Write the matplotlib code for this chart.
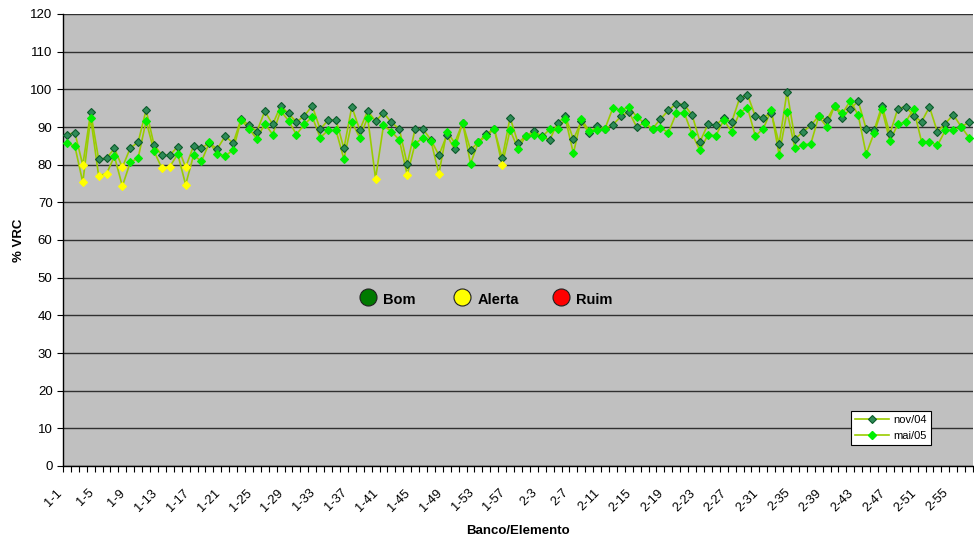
import numpy as np
import matplotlib
matplotlib.use("Agg")
import matplotlib.pyplot as plt
import matplotlib.transforms as mtransforms
from matplotlib.lines import Line2D

plt.rcParams['font.family'] = ['Liberation Sans', 'DejaVu Sans']

# categorias: banco 1 (1-58) e banco 2 (2-57)
elementos = [f"1-{i}" for i in range(1, 59)] + [f"2-{i}" for i in range(1, 58)]

nov04 = [88.0, 88.5, 79.9, 93.9, 81.5, 81.7, 84.3, 79.3, 84.4, 86.0,
         94.5, 85.3, 82.5, 82.5, 84.8, 79.3, 85.0, 84.5, 85.7, 84.2,
         87.6, 85.7, 92.1, 90.5, 88.8, 94.2, 90.7, 95.6, 93.6, 91.3,
         93.0, 95.6, 89.4, 91.8, 91.9, 84.3, 95.4, 89.2, 94.3, 91.5,
         93.8, 91.2, 89.5, 80.1, 89.5, 89.4, 86.6, 82.5, 87.8, 84.1,
         91.1, 83.9, 86.0, 88.2, 89.5, 81.7, 92.5, 85.8, 87.6, 88.9,
         87.6, 86.5, 91.1, 92.8, 86.7, 91.5, 88.3, 90.3, 89.6, 90.6,
         92.8, 94.1, 90.0, 91.2, 89.5, 92.1, 94.4, 96.2, 95.9, 93.2,
         86.1, 90.7, 90.4, 92.5, 91.3, 97.6, 98.6, 92.8, 92.5, 93.8,
         85.6, 99.4, 86.8, 88.7, 90.4, 92.9, 91.8, 95.6, 92.5, 94.9,
         96.8, 89.5, 89.1, 95.7, 88.2, 94.9, 95.4, 93.0, 91.4, 95.3,
         88.7, 90.9, 93.3, 90.1, 91.2]

mai05 = [85.7, 84.9, 75.3, 92.4, 77.1, 77.6, 82.2, 74.3, 80.6, 81.8,
         91.6, 83.6, 79.0, 79.5, 82.8, 74.7, 82.5, 80.9, 85.9, 82.8,
         82.3, 83.9, 91.8, 89.6, 86.8, 90.9, 88.0, 94.3, 91.7, 88.0,
         90.7, 92.7, 87.2, 89.1, 89.1, 81.5, 91.3, 87.2, 92.5, 76.3,
         90.4, 88.8, 86.6, 77.3, 85.6, 87.1, 86.3, 77.6, 88.8, 85.8,
         91.1, 80.3, 86.0, 87.6, 89.5, 79.9, 89.2, 84.2, 87.6, 88.0,
         87.3, 89.4, 89.4, 92.1, 83.0, 92.2, 88.9, 89.1, 89.6, 95.1,
         94.4, 95.4, 92.7, 91.0, 89.4, 89.8, 88.5, 93.6, 93.8, 88.1,
         83.8, 87.9, 87.7, 91.8, 88.8, 93.8, 95.1, 87.6, 89.6, 94.4,
         82.6, 94.1, 84.3, 85.3, 85.5, 92.8, 90.1, 95.6, 93.6, 97.0,
         93.1, 82.8, 88.4, 94.7, 86.3, 90.7, 91.4, 94.8, 86.1, 86.1,
         85.1, 89.1, 89.2, 90.1, 87.2]

limite_alerta = 80  # abaixo disso o ponto fica amarelo

cor_linha = '#99CC00'
cor_nov = '#2E8B57'
cor_nov_borda = '#0B5A2A'
cor_mai = '#00F000'
cor_alerta = '#FFFF00'

fig = plt.figure(figsize=(9.74, 5.4), dpi=100)
ax = fig.add_axes([63 / 974, 1 - 466 / 540, 910 / 974, 452 / 540])
ax.set_facecolor('#C0C0C0')

x = np.arange(len(elementos))
series = [(nov04, cor_nov, cor_nov_borda), (mai05, cor_mai, cor_mai)]
for valores, cor, borda in series:
    v = np.array(valores)
    ax.plot(x, v, color=cor_linha, lw=1.2, zorder=3)
    ok = v >= limite_alerta
    ax.plot(x[ok], v[ok], ls='none', marker='D', ms=4.4, mfc=cor, mec=borda,
            mew=0.8, zorder=4)
    ax.plot(x[~ok], v[~ok], ls='none', marker='D', ms=4.4, mfc=cor_alerta,
            mec=cor_alerta, mew=0.8, zorder=4)

ax.set_xlim(-0.5, len(elementos) - 0.5)
ax.set_ylim(0, 120)
ax.set_yticks(np.arange(0, 121, 10))
ax.yaxis.grid(True, color='#303030', lw=1.0)
ax.set_axisbelow(True)

ax.set_xticks(x[::4])
ax.set_xticklabels(elementos[::4], rotation=45, ha='right', va='top',
                   rotation_mode='anchor', fontsize=9.3)
ax.set_xticks(np.arange(-0.5, len(elementos), 1), minor=True)
ax.tick_params(axis='x', which='major', length=0, pad=15)
ax.tick_params(axis='x', which='minor', length=4, width=0.8, direction='out')
ax.tick_params(axis='y', length=4, width=0.8, direction='out', labelsize=9.5)

# desloca os rotulos rotacionados um pouco para a esquerda
desloc = mtransforms.ScaledTranslation(-0.11, 0, fig.dpi_scale_trans)
for lbl in ax.get_xticklabels():
    lbl.set_transform(lbl.get_transform() + desloc)

for s in ['top', 'right']:
    ax.spines[s].set_visible(False)
for s in ['left', 'bottom']:
    ax.spines[s].set_color('black')
    ax.spines[s].set_linewidth(1.0)

ax.set_ylabel('% VRC', fontweight='bold', fontsize=9.5, labelpad=4)
ax.set_xlabel('Banco/Elemento', fontweight='bold', fontsize=9.5)
ax.xaxis.set_label_coords(0.5, -0.131)

# legenda de classificacao no meio do grafico
classes = ['Bom', 'Alerta', 'Ruim']
cores_classes = ['#007A00', '#FFFF00', '#FF0000']
pos_x = [0.335, 0.439, 0.547]
for nome, cor, px in zip(classes, cores_classes, pos_x):
    ax.scatter([px], [0.375], s=150, color=cor, edgecolor='#202020', lw=0.8,
               transform=ax.transAxes, zorder=5, clip_on=False)
    ax.text(px + 0.0165, 0.368, nome, transform=ax.transAxes, fontsize=10.5,
            fontweight='bold', va='center', ha='left', zorder=5)

handles = [
    Line2D([], [], color=cor_linha, lw=1.2, marker='D', ms=4.4, mfc=cor_nov,
           mec=cor_nov_borda, mew=0.8),
    Line2D([], [], color=cor_linha, lw=1.2, marker='D', ms=4.4, mfc=cor_mai,
           mec=cor_mai),
]
leg = ax.legend(handles, ['nov/04', 'mai/05'], loc='lower right',
                bbox_to_anchor=(0.954, 0.046), borderaxespad=0, fontsize=8,
                fancybox=False, framealpha=1, edgecolor='black',
                handlelength=3, handletextpad=0.4, borderpad=0.4,
                labelspacing=0.5)
leg.get_frame().set_linewidth(0.8)
leg.set_zorder(6)

fig.savefig('out.png', dpi=100)
